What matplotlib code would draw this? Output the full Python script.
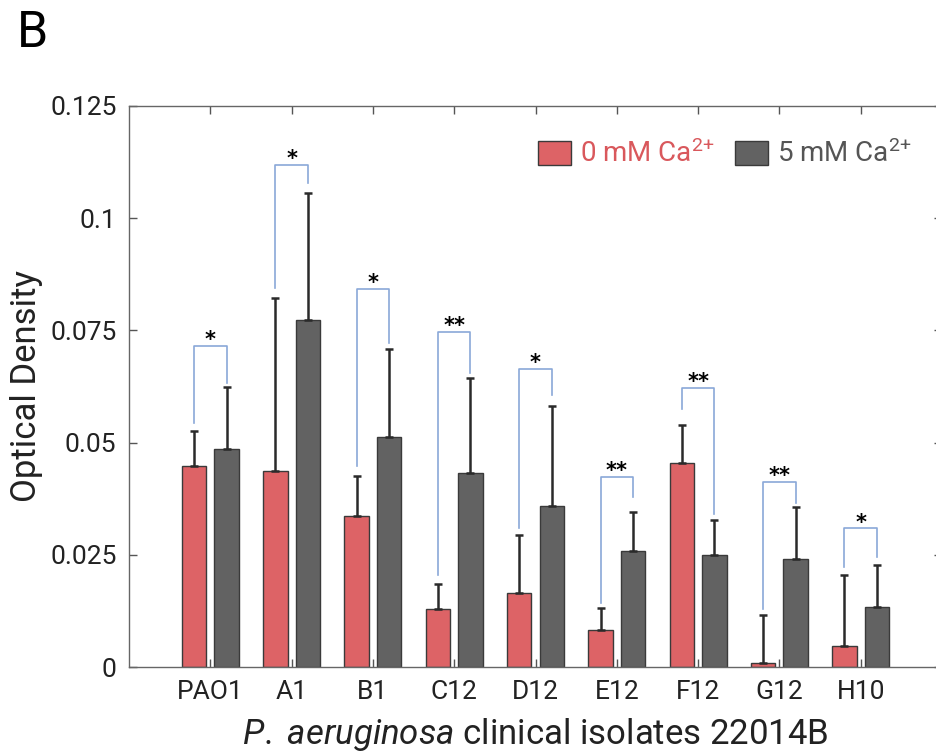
import matplotlib
matplotlib.use("Agg")
import matplotlib.pyplot as plt
import numpy as np
from matplotlib.patches import Patch

plt.rcParams['font.family'] = ['Roboto', 'DejaVu Sans']
plt.rcParams['mathtext.fontset'] = 'custom'
plt.rcParams['mathtext.rm'] = 'Roboto'
plt.rcParams['mathtext.it'] = 'Roboto:italic'

categories = ["PAO1", "A1", "B1", "C12", "D12", "E12", "F12", "G12", "H10"]
od_0mM = [0.0447, 0.0438, 0.0336, 0.0130, 0.0165, 0.0082, 0.0455, 0.0010, 0.0048]
err_0mM = [0.0078, 0.0385, 0.0090, 0.0055, 0.0130, 0.0050, 0.0084, 0.0106, 0.0157]
od_5mM = [0.0487, 0.0773, 0.0513, 0.0433, 0.0359, 0.0258, 0.0251, 0.0241, 0.0134]
err_5mM = [0.0138, 0.0283, 0.0196, 0.0211, 0.0223, 0.0088, 0.0077, 0.0116, 0.0093]
bracket_top = [0.0716, 0.1119, 0.0842, 0.0746, 0.0665, 0.0424, 0.0621, 0.0412, 0.0309]
bracket_left_end = [0.0543, 0.0844, 0.0447, 0.0205, 0.0310, 0.0144, 0.0575, 0.0129, 0.0223]
bracket_right_end = [0.0633, 0.1079, 0.0722, 0.0655, 0.0606, 0.0378, 0.0341, 0.0366, 0.0246]
significance = ["*", "*", "*", "**", "*", "**", "**", "**", "*"]
yticks = [0, 0.025, 0.05, 0.075, 0.1, 0.125]
yticklabels = ["0", "0.025", "0.05", "0.075", "0.1", "0.125"]
legend_labels = [r"0 mM Ca$^{\text{2+}}$", r"5 mM Ca$^{\text{2+}}$"]

red = "#DD6366"
gray = "#626262"
edge = "#3a3a3a"
blue = "#8AA8D8"

fig = plt.figure(figsize=(9.37, 7.52), dpi=100)
ax = fig.add_axes([129/937, (752-667.3)/752, 813/937, (667.3-105.7)/752])

x = np.arange(1, len(categories) + 1)
w = 0.3
off = 0.2
zeros = np.zeros(len(categories))
ax.bar(x - off, od_0mM, w, color=red, edgecolor=edge, linewidth=1, zorder=2)
ax.bar(x + off, od_5mM, w, color=gray, edgecolor=edge, linewidth=1, zorder=2)
ax.errorbar(x - off, od_0mM, yerr=[zeros, err_0mM], fmt='none', ecolor="#2a2a2a",
            elinewidth=1.8, capsize=2.8, capthick=1.8, zorder=3)
ax.errorbar(x + off, od_5mM, yerr=[zeros, err_5mM], fmt='none', ecolor="#2a2a2a",
            elinewidth=1.8, capsize=2.8, capthick=1.8, zorder=3)

for i in range(len(categories)):
    xl, xr = x[i] - off, x[i] + off
    ax.plot([xl, xl, xr, xr], [bracket_left_end[i], bracket_top[i], bracket_top[i], bracket_right_end[i]],
            color=blue, linewidth=1.2, zorder=4)
    ax.annotate(significance[i], xy=(x[i], bracket_top[i]), xytext=(0, -3), textcoords='offset points',
                ha='center', va='bottom', fontsize=15, fontweight='bold', color='black',
                family='DejaVu Sans')

ax.set_xlim(0, 10)
ax.set_ylim(0, 0.125)
ax.set_xticks(x)
ax.set_xticklabels(categories, fontsize=19, color="#222222")
ax.set_yticks(yticks)
ax.set_yticklabels(yticklabels, fontsize=19, color="#222222")
ax.tick_params(axis='both', direction='in', length=6, width=1, color="#555555",
               top=True, right=True, pad=9)
for s in ax.spines.values():
    s.set_color("#666666")
    s.set_linewidth(1)

ax.set_ylabel("Optical Density", fontsize=25, color="#222222", labelpad=5)
ax.set_xlabel(r"$\it{P.}$ $\it{aeruginosa}$ clinical isolates 22014B", fontsize=25,
              color="#222222", labelpad=9)

handles = [Patch(facecolor=red, edgecolor=edge, linewidth=1),
           Patch(facecolor=gray, edgecolor=edge, linewidth=1)]
leg = ax.legend(handles, legend_labels, ncol=2, frameon=False,
                loc='upper left', bbox_to_anchor=((538-129)/813, 1 - (140-105.7)/561.6),
                fontsize=20, handlelength=1.19, handleheight=1.0, handletextpad=0.32,
                columnspacing=0.75, borderpad=0, borderaxespad=0)
leg.get_texts()[0].set_color("#D9585C")
leg.get_texts()[1].set_color("#555555")

fig.text(17/937, 1 - 9/752, "B", fontsize=36, va='top', ha='left', color='black')

fig.savefig("out.png", dpi=100)
